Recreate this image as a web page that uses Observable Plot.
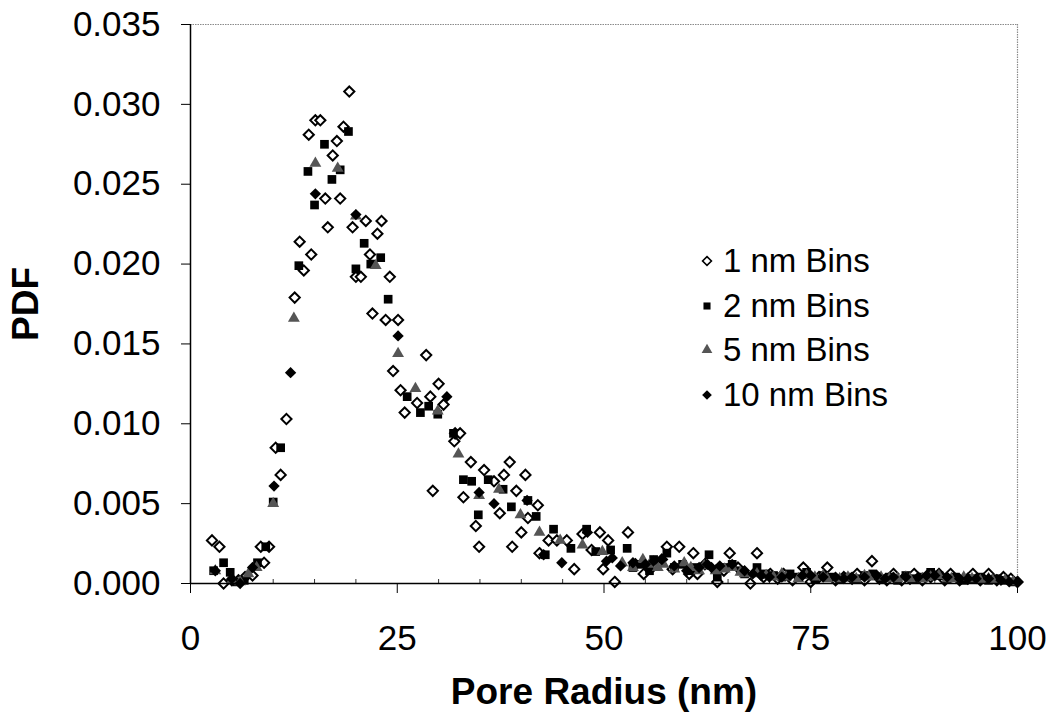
<!DOCTYPE html>
<html>
<head>
<meta charset="utf-8">
<script src="https://cdn.jsdelivr.net/npm/d3@7"></script>
<script src="https://cdn.jsdelivr.net/npm/@observablehq/plot@0.6"></script>
<style>
  body { margin: 0; background: #fff; }
  #wrap { position: relative; width: 1050px; height: 724px; }
  #legend { position: absolute; left: 696px; top: 239px; font-family: "Liberation Sans", Arial, sans-serif; font-size: 33px; color: #000; }
  #legend .row { display: flex; align-items: center; height: 44.5px; }
  #legend svg { width: 22px; height: 22px; margin-right: 5px; }
</style>
</head>
<body>
<div id="wrap">
  <div id="chart"></div>
  <div id="legend"></div>
</div>
<script>
// Pore-radius PDF estimated with different bin widths: [radius (nm), PDF]
const bins1nm = [
  [2.6,0.0027],[3.5,0.0023],[4.0,0.0000],[5.0,0.0002],[5.8,0.0002],[6.6,0.0004],[7.5,0.0005],
  [8.5,0.0023],[8.9,0.0013],[9.5,0.0023],[10.3,0.0085],[10.9,0.0068],[11.6,0.0103],[12.6,0.0179],
  [13.2,0.0214],[13.7,0.0196],[14.3,0.0281],[14.6,0.0206],[15.1,0.0290],[15.7,0.0290],[16.3,0.0241],
  [16.6,0.0223],[17.2,0.0268],[17.7,0.0277],[18.1,0.0241],[18.5,0.0286],[19.2,0.0308],[19.6,0.0223],
  [20.0,0.0192],[20.6,0.0192],[21.2,0.0227],[21.7,0.0206],[22.0,0.0169],[22.6,0.0219],[23.1,0.0227],
  [23.6,0.0165],[24.1,0.0192],[24.5,0.0133],[25.1,0.0165],[25.4,0.0121],[25.9,0.0107],[27.4,0.0113],
  [28.5,0.0143],[29.0,0.0117],[29.3,0.0058],[30.0,0.0125],[30.6,0.0112],[31.9,0.0089],[32.0,0.0094],
  [32.6,0.0094],[33.0,0.0054],[33.9,0.0076],[34.5,0.0036],[34.9,0.0023],[35.5,0.0071],[36.7,0.0064],
  [37.4,0.0044],[37.9,0.0068],[38.6,0.0076],[38.9,0.0023],[39.4,0.0058],[40.0,0.0032],[40.5,0.0068],
  [40.8,0.0041],[42.0,0.0049],[42.2,0.0019],[43.3,0.0027],[44.3,0.0027],[45.5,0.0027],[46.4,0.0009],
  [47.4,0.0031],[48.5,0.0021],[49.5,0.0032],[49.9,0.0009],[50.5,0.0027],[51.3,0.0001],[52.9,0.0032],
  [53.8,0.0012],[54.8,0.0006],[56.0,0.0011],[57.0,0.0015],[57.6,0.0023],[58.3,0.0009],[59.1,0.0023],
  [60.3,0.0006],[60.8,0.0019],[61.3,0.0006],[62.2,0.0012],[63.7,0.0001],[64.5,0.0008],[65.2,0.0019],
  [66.2,0.0010],[67.7,0.0000],[68.5,0.0019],[69.3,0.0004],[70.1,0.0006],[71.0,0.0003],[71.7,0.0006],
  [72.8,0.0002],[74.1,0.0010],[75.0,0.0001],[76.0,0.0004],[77.0,0.0010],[78.0,0.0002],[79.0,0.0004],
  [80.0,0.0003],[80.6,0.0006],[81.5,0.0002],[82.4,0.0014],[83.3,0.0003],[84.2,0.0002],[85.0,0.0006],
  [86.0,0.0002],[87.0,0.0003],[87.5,0.0006],[88.5,0.0002],[89.5,0.0004],[90.5,0.0006],[91.2,0.0002],
  [91.9,0.0006],[93.0,0.0002],[94.0,0.0003],[94.6,0.0006],[95.5,0.0002],[96.5,0.0006],[97.5,0.0002],
  [98.3,0.0004],[99.2,0.0003],[100.0,0.0001]
];
const bins2nm = [
  [2.8,0.0008],[4.0,0.0013],[4.8,0.0007],[5.6,0.0001],[6.5,0.0002],[8.1,0.0013],[9.1,0.0023],
  [10.0,0.0051],[10.9,0.0085],[13.1,0.0199],[14.2,0.0258],[15.0,0.0237],[16.2,0.0275],[17.1,0.0253],
  [18.1,0.0259],[19.1,0.0283],[20.0,0.0197],[21.0,0.0213],[21.8,0.0200],[23.0,0.0204],[23.9,0.0178],
  [26.2,0.0117],[27.8,0.0107],[28.8,0.0111],[29.9,0.0106],[31.8,0.0094],[33.0,0.0065],[34.0,0.0064],
  [34.8,0.0043],[36.0,0.0065],[37.8,0.0059],[38.8,0.0048],[40.8,0.0052],[41.8,0.0042],[42.9,0.0018],
  [43.9,0.0034],[46.0,0.0022],[47.9,0.0034],[49.0,0.0020],[50.8,0.0021],[52.8,0.0022],[53.5,0.0010],
  [54.5,0.0012],[55.5,0.0008],[56.0,0.0015],[57.6,0.0019],[58.5,0.0010],[59.5,0.0012],[60.5,0.0008],
  [61.0,0.0010],[62.7,0.0018],[63.7,0.0004],[64.5,0.0010],[65.5,0.0012],[66.5,0.0008],[67.0,0.0006],
  [68.5,0.0010],[69.5,0.0006],[70.5,0.0005],[71.5,0.0004],[72.5,0.0006],[73.5,0.0004],[74.5,0.0007],
  [75.5,0.0003],[76.5,0.0005],[77.5,0.0004],[78.5,0.0003],[79.5,0.0004],[80.5,0.0003],[81.5,0.0005],
  [82.5,0.0006],[83.5,0.0003],[84.5,0.0004],[85.5,0.0002],[86.5,0.0005],[87.5,0.0003],[88.5,0.0004],
  [89.5,0.0007],[90.5,0.0005],[91.5,0.0003],[92.5,0.0004],[93.5,0.0002],[94.5,0.0003],[95.5,0.0004],
  [96.5,0.0002],[97.5,0.0003],[98.5,0.0002],[99.5,0.0001]
];
const bins5nm = [
  [3.0,0.0008],[5.0,0.0002],[6.0,0.0001],[7.0,0.0006],[8.0,0.0010],[10.0,0.0050],[12.5,0.0166],
  [15.1,0.0263],[17.8,0.0260],[20.0,0.0230],[22.4,0.0199],[25.1,0.0144],[27.2,0.0122],[29.9,0.0108],
  [32.4,0.0081],[34.9,0.0055],[37.3,0.0059],[39.9,0.0043],[42.2,0.0032],[44.7,0.0027],[47.4,0.0024],
  [49.8,0.0020],[52.2,0.0013],[53.5,0.0010],[54.7,0.0015],[55.5,0.0012],[56.5,0.0010],[57.2,0.0012],
  [58.5,0.0009],[59.7,0.0013],[60.5,0.0010],[61.5,0.0008],[62.1,0.0011],[63.5,0.0008],[64.6,0.0009],
  [65.5,0.0010],[66.5,0.0007],[67.0,0.0006],[68.5,0.0006],[69.6,0.0005],[70.5,0.0004],[71.5,0.0006],
  [72.0,0.0004],[73.5,0.0003],[74.5,0.0005],[75.5,0.0004],[76.5,0.0005],[77.0,0.0003],[78.5,0.0003],
  [79.5,0.0004],[80.5,0.0003],[81.5,0.0005],[82.0,0.0004],[83.5,0.0004],[84.5,0.0003],[85.5,0.0003],
  [86.5,0.0004],[87.0,0.0003],[88.5,0.0003],[89.5,0.0004],[90.5,0.0005],[91.5,0.0003],[92.0,0.0003],
  [93.5,0.0004],[94.5,0.0003],[95.5,0.0002],[96.5,0.0003],[97.0,0.0002],[98.5,0.0002],[99.5,0.0001]
];
const bins10nm = [
  [3.0,0.0008],[5.0,0.0003],[6.0,0.0000],[7.5,0.0010],[10.1,0.0061],[12.1,0.0132],[15.1,0.0244],
  [20.0,0.0231],[25.1,0.0155],[31.0,0.0117],[34.9,0.0057],[36.7,0.0050],[40.7,0.0052],[42.7,0.0018],
  [44.9,0.0013],[48.0,0.0032],[50.3,0.0014],[51.0,0.0016],[52.0,0.0011],[53.5,0.0013],[55.0,0.0012],
  [56.0,0.0014],[57.0,0.0015],[58.5,0.0011],[60.0,0.0008],[61.5,0.0010],[62.5,0.0012],[63.0,0.0010],
  [64.0,0.0011],[65.5,0.0012],[67.0,0.0008],[68.0,0.0006],[69.0,0.0005],[70.0,0.0004],[71.5,0.0004],
  [72.5,0.0005],[74.0,0.0005],[75.0,0.0005],[76.5,0.0004],[78.0,0.0004],[79.0,0.0003],[80.0,0.0004],
  [81.5,0.0004],[83.0,0.0005],[84.0,0.0003],[85.0,0.0004],[86.5,0.0004],[88.0,0.0004],[89.0,0.0005],
  [90.0,0.0005],[91.5,0.0004],[93.0,0.0003],[94.0,0.0003],[95.0,0.0003],[96.5,0.0003],[98.0,0.0002],
  [99.0,0.0001],[100.0,0.0001]
];
const seriesNames = ["1 nm Bins", "2 nm Bins", "5 nm Bins", "10 nm Bins"];
const xTicks = [0, 25, 50, 75, 100];
const xMinorTicks = [5, 10, 15, 20, 30, 35, 40, 45, 55, 60, 65, 70, 80, 85, 90, 95];
const yTicks = [0, 0.005, 0.010, 0.015, 0.020, 0.025, 0.030, 0.035];

const font = "'Liberation Sans', Arial, Helvetica, sans-serif";

const chart = Plot.plot({
  width: 1050,
  height: 724,
  marginLeft: 190,
  marginRight: 33,
  marginTop: 24,
  marginBottom: 141,
  style: { fontFamily: font, background: "#fff", color: "#000" },
  x: { domain: [0, 100] },
  y: { domain: [0, 0.035] },
  marks: [
    // dotted frame on top and right
    Plot.ruleY([0.035], { stroke: "#8a8a8a", strokeWidth: 1.2, strokeDasharray: "1.5,1" }),
    Plot.ruleX([100], { stroke: "#8a8a8a", strokeWidth: 1.2, strokeDasharray: "1.5,1" }),
    Plot.axisY({ ticks: yTicks, tickFormat: d3.format(".3f"), tickSize: 9, tickPadding: 21, fontSize: 35, label: null, stroke: "#000" }),
    Plot.axisX({ ticks: xTicks, tickFormat: d3.format("d"), tickSize: 10, tickPadding: 32, fontSize: 35, label: null, stroke: "#000" }),
    Plot.axisX({ ticks: xMinorTicks, tickSize: -4, tickFormat: () => "", label: null, stroke: "#333" }),
    // series, drawn from the finest bins to the coarsest
    Plot.dot(bins1nm, { x: d => d[0], y: d => d[1], symbol: "diamond2", r: 4.6, stroke: "#000", strokeWidth: 2, fill: "#fff" }),
    Plot.dot(bins2nm, { x: d => d[0], y: d => d[1], symbol: "square", r: 4.9, fill: "#000" }),
    Plot.dot(bins5nm, { x: d => d[0], y: d => d[1], symbol: "triangle", r: 4.4, fill: "#555" }),
    Plot.dot(bins10nm, { x: d => d[0], y: d => d[1], symbol: "diamond2", r: 5.1, fill: "#000" }),
    Plot.ruleX([0], { stroke: "#000", strokeWidth: 1.5 }),
    Plot.ruleY([0], { stroke: "#000", strokeWidth: 1.5 }),
    Plot.text(["Pore Radius (nm)"], { frameAnchor: "bottom", lineAnchor: "middle", dy: 109, fontSize: 37, fontWeight: "bold", fill: "#000" }),
    Plot.text(["PDF"], { frameAnchor: "left", textAnchor: "middle", dx: -164, rotate: -90, fontSize: 37, fontWeight: "bold", fill: "#000" })
  ]
});
document.getElementById("chart").appendChild(chart);

// legend, placed inside the plotting area
const symbols = [
  { type: d3.symbolDiamond2, size: 50, fill: "#fff", stroke: "#000", sw: 1.6 },
  { type: d3.symbolSquare, size: 50, fill: "#000", stroke: "none", sw: 0 },
  { type: d3.symbolTriangle, size: 50, fill: "#555", stroke: "none", sw: 0 },
  { type: d3.symbolDiamond2, size: 60, fill: "#000", stroke: "none", sw: 0 }
];
const legend = d3.select("#legend");
seriesNames.forEach((name, i) => {
  const row = legend.append("div").attr("class", "row");
  const s = row.append("svg").attr("viewBox", "-11 -11 22 22");
  s.append("path")
    .attr("d", d3.symbol(symbols[i].type, symbols[i].size)())
    .attr("fill", symbols[i].fill)
    .attr("stroke", symbols[i].stroke)
    .attr("stroke-width", symbols[i].sw);
  row.append("span").text(name);
});
</script>
</body>
</html>
